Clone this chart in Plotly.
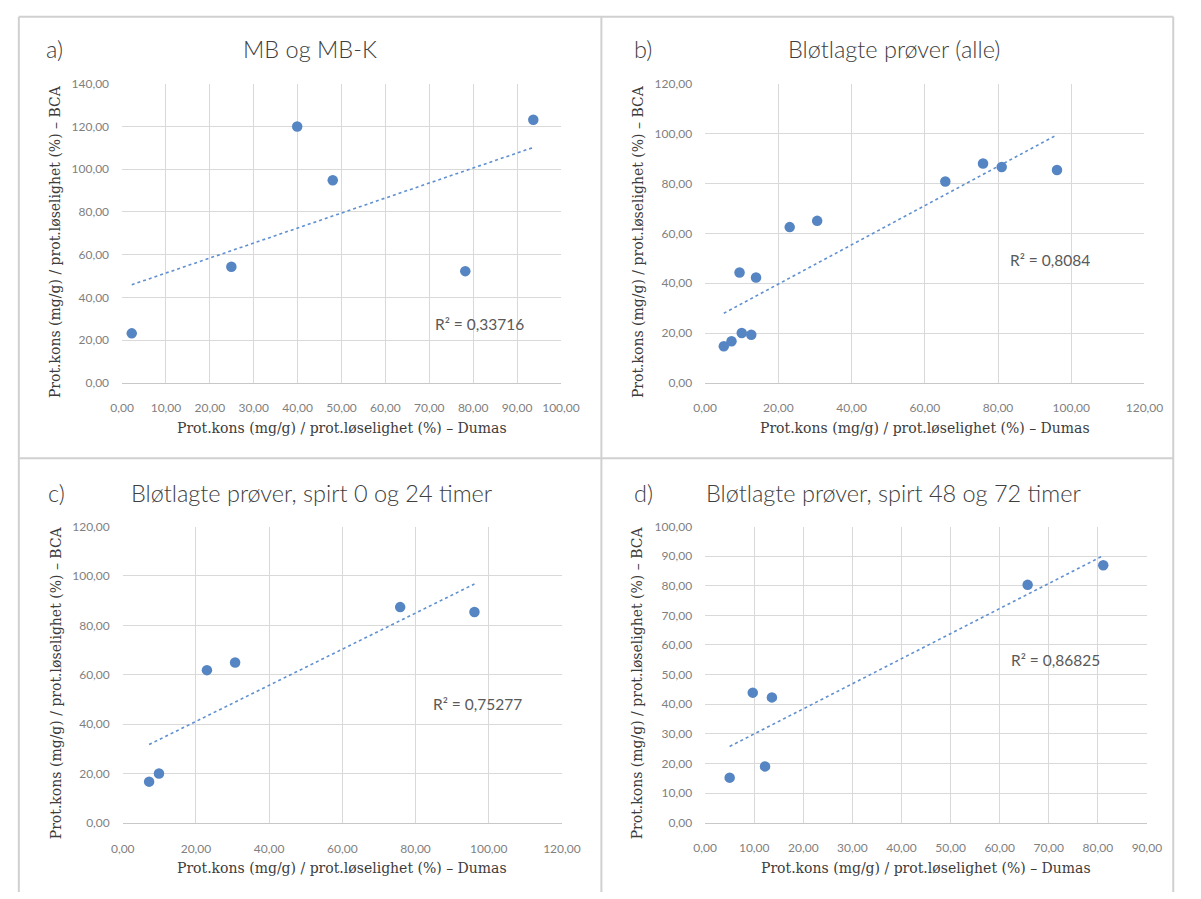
import numpy as np
import plotly.graph_objects as go

W, H = 1201, 899

# ---------------- data ----------------
titles = ["MB og MB-K", "Bløtlagte prøver (alle)",
          "Bløtlagte prøver, spirt 0 og 24 timer", "Bløtlagte prøver, spirt 48 og 72 timer"]
panel_tags = ["a)", "b)", "c)", "d)"]
r2_labels = ["R² = 0,33716", "R² = 0,8084", "R² = 0,75277", "R² = 0,86825"]

a_dumas = [2.2, 24.9, 39.9, 48.0, 78.2, 93.7]
a_bca = [23.2, 54.4, 120.0, 94.8, 52.3, 123.1]

b_dumas = [5.1, 7.2, 10.0, 12.6, 9.4, 13.9, 23.1, 30.6, 65.6, 75.9, 81.0, 96.1]
b_bca = [14.7, 16.7, 20.0, 19.3, 44.3, 42.3, 62.5, 65.0, 80.8, 88.0, 86.6, 85.4]

c_dumas = [7.2, 9.9, 23.0, 30.7, 75.8, 96.1]
c_bca = [16.8, 20.1, 61.9, 65.0, 87.4, 85.4]

d_dumas = [5.0, 9.7, 12.2, 13.6, 65.7, 81.1]
d_bca = [15.2, 43.9, 19.0, 42.3, 80.3, 86.9]

x_label = "Prot.kons (mg/g) / prot.løselighet (%) – Dumas"
y_label = "Prot.kons (mg/g) / prot.løselighet (%) – BCA"

x_ranges = [[0, 100], [0, 120], [0, 120], [0, 90]]
y_ranges = [[0, 140], [0, 120], [0, 120], [0, 100]]
x_dticks = [10, 20, 20, 10]
y_dticks = [20, 20, 20, 10]

# ---------------- layout geometry (pixels) ----------------
plot_boxes = [  # left, right, top, bottom
    (113.0, 563.5, 77.0, 381.3),
    (711.5, 1162.5, 77.0, 381.3),
    (113.7, 564.5, 527.3, 829.0),
    (711.5, 1165.0, 527.3, 828.5),
]
title_pos = [(306, 42), (905, 42), (307, 493), (905, 493)]
tag_pos = [(44, 42), (648, 42), (46, 493), (648, 493)]
r2_pos = [(480, 321), (1066, 256), (478, 708), (1071, 663)]


def px(x):
    return x / W


def py(y):
    return 1 - y / H


series = [(a_dumas, a_bca), (b_dumas, b_bca), (c_dumas, c_bca), (d_dumas, d_bca)]

dot_color = "#5585c2"
fig = go.Figure()
layout_axes = {}
annotations = []

for i, ((xs, ys), box) in enumerate(zip(series, plot_boxes)):
    n = i + 1
    xa = "x" if n == 1 else f"x{n}"
    ya = "y" if n == 1 else f"y{n}"
    xs = np.array(xs)
    ys = np.array(ys)
    k, m = np.polyfit(xs, ys, 1)
    xt = np.array([xs.min(), xs.max()])
    fig.add_trace(go.Scatter(x=xt, y=k * xt + m, mode="lines", xaxis=xa, yaxis=ya,
                             line=dict(color="#6090cf", width=1.6, dash="dot"),
                             showlegend=False, hoverinfo="skip"))
    fig.add_trace(go.Scatter(x=xs, y=ys, mode="markers", xaxis=xa, yaxis=ya,
                             marker=dict(color=dot_color, size=10.5),
                             showlegend=False))
    l, r, t, b = box
    axis_common = dict(showgrid=True, gridcolor="#d9d9d9", gridwidth=1, zeroline=False,
                       ticks="", tickfont=dict(family="Lato", size=12, color="#7f7f7f"),
                       tickformat=".2f", fixedrange=True)
    layout_axes["xaxis" if n == 1 else f"xaxis{n}"] = dict(
        domain=[px(l), px(r)], range=x_ranges[i], dtick=x_dticks[i], tick0=0,
        anchor=ya, showline=True, linecolor="#c8c8c8", linewidth=1,
        ticklabelstandoff=14, **axis_common)
    layout_axes["yaxis" if n == 1 else f"yaxis{n}"] = dict(
        domain=[py(b), py(t)], range=y_ranges[i], dtick=y_dticks[i], tick0=0,
        anchor=xa, showline=False, ticklabelstandoff=12, **axis_common)

    # titles and labels
    annotations.append(dict(x=px(title_pos[i][0]), y=py(title_pos[i][1]), xref="paper", yref="paper",
                            text=titles[i], showarrow=False, xanchor="center", yanchor="middle",
                            font=dict(family="Lato", size=23.5, color="#404040", weight=300)))
    annotations.append(dict(x=px(tag_pos[i][0]), y=py(tag_pos[i][1]), xref="paper", yref="paper",
                            text=panel_tags[i], showarrow=False, xanchor="center", yanchor="middle",
                            font=dict(family="Lato", size=23.5, color="#404040", weight=300)))
    annotations.append(dict(x=px(r2_pos[i][0]), y=py(r2_pos[i][1]), xref="paper", yref="paper",
                            text=r2_labels[i], showarrow=False, xanchor="center", yanchor="middle",
                            font=dict(family="Lato", size=15.5, color="#595959")))
    annotations.append(dict(x=px((l + r) / 2), y=py(b + 46), xref="paper", yref="paper",
                            text=x_label, showarrow=False, xanchor="center", yanchor="middle",
                            font=dict(family="DejaVu Serif", size=14, color="#3c3c3c")))
    annotations.append(dict(x=px(l - 69), y=py((t + b) / 2 + 8), xref="paper", yref="paper",
                            text=y_label, showarrow=False, xanchor="center", yanchor="middle",
                            textangle=-90,
                            font=dict(family="DejaVu Serif", size=14, color="#3c3c3c")))

# panel frame lines
line_style = dict(color="#d0d0d0", width=2)
shapes = [
    dict(type="line", xref="paper", yref="paper", x0=px(7), x1=px(1192), y0=py(9), y1=py(9), line=line_style),
    dict(type="line", xref="paper", yref="paper", x0=px(7), x1=px(7), y0=py(9), y1=0, line=line_style),
    dict(type="line", xref="paper", yref="paper", x0=px(1192), x1=px(1192), y0=py(9), y1=0, line=line_style),
    dict(type="line", xref="paper", yref="paper", x0=px(605), x1=px(605), y0=py(9), y1=0, line=line_style),
    dict(type="line", xref="paper", yref="paper", x0=px(7), x1=px(1192), y0=py(458), y1=py(458), line=line_style),
]

fig.update_layout(
    width=W, height=H, margin=dict(l=0, r=0, t=0, b=0),
    paper_bgcolor="white", plot_bgcolor="white",
    separators=", ", showlegend=False,
    annotations=annotations, shapes=shapes,
    **layout_axes,
)

pin_js = (
    "document.documentElement.style.margin='0';"
    "document.documentElement.style.overflow='hidden';"
    "document.body.style.margin='0';"
    "document.body.style.overflow='hidden';"
    "var gd=document.getElementById('{plot_id}');"
    "gd.style.position='fixed';gd.style.left='0px';gd.style.top='0px';"
)

fig.write_html("out.html", config={"displayModeBar": False}, post_script=pin_js)
